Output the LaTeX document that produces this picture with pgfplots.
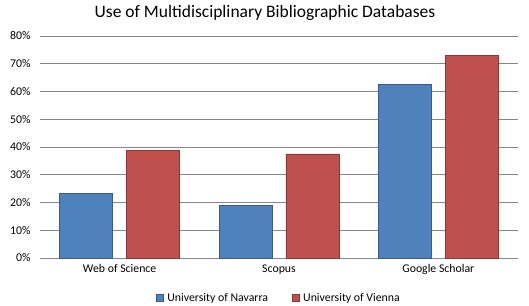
\documentclass[border=0pt]{standalone}
\usepackage{pgfplots}
\pgfplotsset{compat=1.18}
\usepackage{fontspec}
\setmainfont{Carlito}
\definecolor{navblue}{RGB}{79,129,189}
\definecolor{navedge}{RGB}{56,93,138}
\definecolor{vienred}{RGB}{192,80,77}
\definecolor{vienedge}{RGB}{140,56,54}
\definecolor{gridgray}{RGB}{134,134,134}
\begin{document}
\begin{tikzpicture}[x=1pt,y=1pt]
\useasboundingbox (0,0) rectangle (529,305);
\begin{axis}[
  at={(40pt,47pt)}, anchor=south west,
  scale only axis, width=478pt, height=222pt,
  xmin=-0.5, xmax=2.5, ymin=0, ymax=80,
  ybar, bar width=0.333,
  xtick={0,1,2}, xticklabels={Web of Science,Scopus,Google Scholar},
  ytick={0,10,...,80},
  yticklabel={\pgfmathprintnumber{\tick}\%},
  /pgf/number format/assume math mode=true,
  ymajorgrids, grid style={gridgray, line width=0.9pt},
  axis x line*=bottom, axis y line*=left,
  x axis line style={gridgray, line width=0.9pt, -},
  y axis line style={draw=none},
  major tick length=0pt,
  tick label style={font=\fontsize{11.8}{13}\selectfont, text=black},
  xticklabel style={yshift=-3pt},
  yticklabel style={xshift=-6pt},
  legend style={at={(0.5,-0.18)}, anchor=center, draw=none, fill=none,
    legend columns=2, font=\fontsize{11.8}{13}\selectfont,
    /tikz/every even column/.append style={column sep=22pt},
    /tikz/every odd column/.append style={column sep=2pt}},
  legend image code/.code={\fill[#1] (0pt,-3.2pt) rectangle (6.5pt,3.2pt);},
]
\addplot[fill=navblue, draw=navedge, line width=0.6pt, bar shift=-0.21] coordinates {(0,23.4) (1,19.0) (2,62.7)};
\addlegendentry{University of Navarra}
\addplot[fill=vienred, draw=vienedge, line width=0.6pt, bar shift=0.21] coordinates {(0,38.7) (1,37.5) (2,73.0)};
\addlegendentry{University of Vienna}
\end{axis}
\node[font=\fontsize{17.5}{20}\selectfont, text=black] at (265,292) {Use of Multidisciplinary Bibliographic Databases};
\end{tikzpicture}
\end{document}
